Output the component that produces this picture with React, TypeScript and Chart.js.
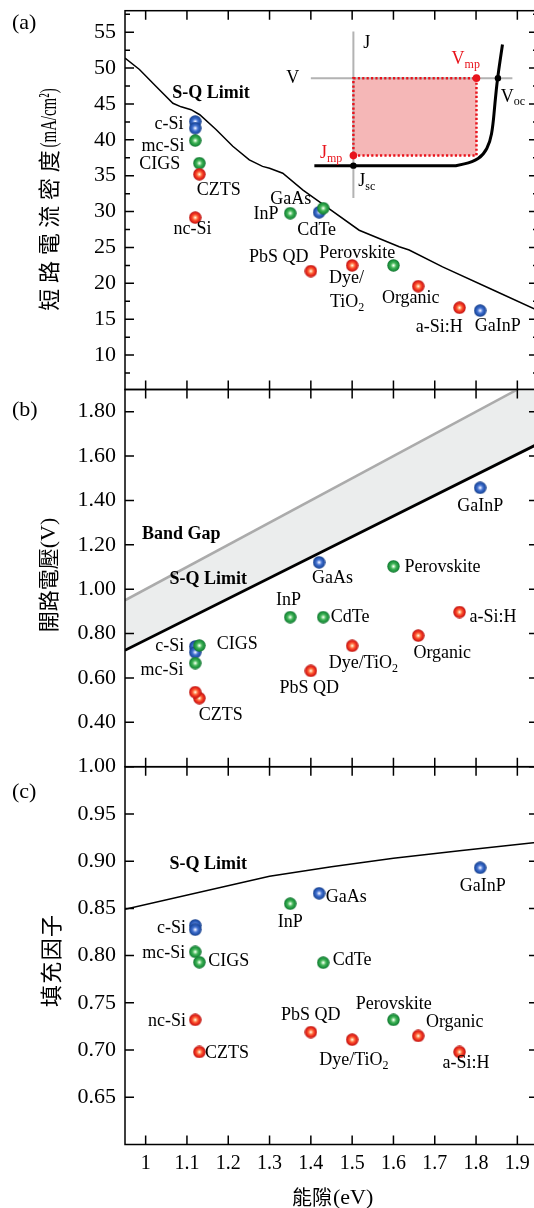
import React, { useEffect, useRef } from 'react';
import { Chart, registerables } from 'chart.js';
Chart.register(...registerables);

// ---------------- data ----------------
const materials = ['c-Si', 'c-Si', 'mc-Si', 'CIGS', 'CZTS', 'nc-Si', 'InP', 'GaAs', 'CdTe', 'PbS QD', 'Dye/TiO_2', 'Perovskite', 'Organic', 'a-Si:H', 'GaInP'];
const bandGap = [1.12, 1.12, 1.12, 1.13, 1.13, 1.12, 1.35, 1.42, 1.43, 1.40, 1.50, 1.60, 1.66, 1.76, 1.81];
const colorGroup = ['blue', 'blue', 'green', 'green', 'red', 'red', 'green', 'blue', 'green', 'red', 'red', 'green', 'red', 'red', 'blue'];
const jsc = [42.55, 41.63, 39.9, 36.75, 35.2, 29.16, 29.77, 29.9, 30.47, 21.7, 22.5, 22.5, 19.6, 16.6, 16.2];
const voc = [0.742, 0.716, 0.667, 0.746, 0.509, 0.536, 0.874, 1.121, 0.874, 0.632, 0.745, 1.103, 0.791, 0.897, 1.457];
const ff = [0.832, 0.8275, 0.804, 0.793, 0.698, 0.732, 0.855, 0.866, 0.7925, 0.719, 0.711, 0.732, 0.715, 0.698, 0.893];

const sqJscE = [0.95, 0.985, 1.026, 1.066, 1.086, 1.11, 1.131, 1.171, 1.211, 1.251, 1.283, 1.30, 1.332, 1.381, 1.437, 1.517, 1.614, 1.638, 1.719, 1.84, 1.95];
const sqJscV = [51.4, 49.8, 47.4, 45.1, 44.6, 44.2, 43.5, 41.4, 39.1, 37.2, 36.3, 36.05, 35.35, 33.0, 30.7, 27.4, 25.1, 24.65, 22.3, 19.1, 16.2];
const bandGapLineE = [0.95, 1.95];
const bandGapLineV = [0.95, 1.95];
const sqVocE = [0.95, 1.45, 1.95];
const sqVocV = [0.725, 1.19, 1.655];
const sqFfE = [0.95, 1.3, 1.45, 1.6, 1.76, 1.95];
const sqFfV = [0.849, 0.884, 0.894, 0.903, 0.911, 0.920];

const xTickValues = [1, 1.1, 1.2, 1.3, 1.4, 1.5, 1.6, 1.7, 1.8, 1.9];
const xTickLabels = ['1', '1.1', '1.2', '1.3', '1.4', '1.5', '1.6', '1.7', '1.8', '1.9'];
const jscTickValues = [10, 15, 20, 25, 30, 35, 40, 45, 50, 55];
const jscTickLabels = ['10', '15', '20', '25', '30', '35', '40', '45', '50', '55'];
const jscMinorTicks = [7.5, 12.5, 17.5, 22.5, 27.5, 32.5, 37.5, 42.5, 47.5, 52.5, 57.5];
const vocTickValues = [0.4, 0.6, 0.8, 1.0, 1.2, 1.4, 1.6, 1.8];
const vocTickLabels = ['0.40', '0.60', '0.80', '1.00', '1.20', '1.40', '1.60', '1.80'];
const ffTickValues = [0.65, 0.7, 0.75, 0.8, 0.85, 0.9, 0.95, 1.0];
const ffTickLabels = ['0.65', '0.70', '0.75', '0.80', '0.85', '0.90', '0.95', '1.00'];

// inset schematic (J-V curve), in panel (a) data units
const insetCurveE = [1.4085, 1.751, 1.792, 1.818, 1.834, 1.841, 1.846, 1.852, 1.864];
const insetCurveV = [36.4, 36.4, 36.9, 37.9, 39.7, 42.0, 45.3, 48.6, 53.3];

// ---------------- style ----------------
const W = 545;
const SERIF = '"Liberation Serif", "Times New Roman", serif';
const CJK = '"Noto Sans CJK TC", "Noto Sans CJK SC", sans-serif';
const RED = '#e8141c';

function makeBall(stops: string[]) {
  const c = document.createElement('canvas');
  c.width = 13; c.height = 13;
  const g = c.getContext('2d')!;
  const grad = g.createRadialGradient(6.5, 6.5, 0, 6.5, 6.5, 6.3);
  const pos = [0, 0.16, 0.42, 0.75, 1];
  stops.forEach((s, i) => grad.addColorStop(pos[i], s));
  g.fillStyle = grad;
  g.beginPath(); g.arc(6.5, 6.5, 6.2, 0, Math.PI * 2); g.fill();
  return c;
}

function drawRich(ctx: CanvasRenderingContext2D, text: string, x: number, y: number, size: number, align: string, bold = false, color = '#000') {
  const parts = text.split('_');
  const main = parts[0];
  const sub = parts[1];
  const fMain = `${bold ? 'bold ' : ''}${size}px ${SERIF}`;
  const fSub = `${bold ? 'bold ' : ''}${Math.round(size * 0.68)}px ${SERIF}`;
  ctx.font = fMain;
  const w1 = ctx.measureText(main).width;
  let w2 = 0;
  if (sub) { ctx.font = fSub; w2 = ctx.measureText(sub).width; }
  const total = w1 + w2;
  const x0 = align === 'left' ? x : align === 'right' ? x - total : x - total / 2;
  ctx.fillStyle = color;
  ctx.textBaseline = 'middle';
  ctx.textAlign = 'left';
  ctx.font = fMain;
  ctx.fillText(main, x0, y);
  if (sub) { ctx.font = fSub; ctx.fillText(sub, x0 + w1, y + size * 0.3); }
}

function drawVTitle(ctx: CanvasRenderingContext2D, cx: number, cy: number, cjk: string, cjkSize: number, pitch: number, latin: string, latinSize: number, latinScale: number) {
  ctx.save();
  ctx.translate(cx, cy);
  ctx.rotate(-Math.PI / 2);
  ctx.fillStyle = '#000';
  ctx.textBaseline = 'middle';
  ctx.font = `${latinSize}px ${SERIF}`;
  const lw = latin ? ctx.measureText(latin).width * latinScale : 0;
  const chars = Array.from(cjk);
  const total = chars.length * pitch + lw;
  let xx = -total / 2;
  ctx.font = `${cjkSize}px ${CJK}`;
  ctx.textAlign = 'center';
  for (const ch of chars) { ctx.fillText(ch, xx + pitch / 2, 0); xx += pitch; }
  if (latin) {
    ctx.save();
    ctx.translate(xx, 0);
    ctx.scale(latinScale, 1);
    ctx.font = `${latinSize}px ${SERIF}`;
    ctx.textAlign = 'left';
    ctx.fillText(latin, 0, 1);
    ctx.restore();
  }
  ctx.restore();
}

type Lbl = { i: number; t?: string; dx: number; dy: number; a: string };
type Txt = { t: string; e: number; v: number; a: string; bold?: boolean; color?: string; size?: number };

const labelsA: Lbl[] = [
  { i: 0, dx: -11.7, dy: 2.3, a: 'right' },
  { i: 2, dx: -10.7, dy: 6, a: 'right' },
  { i: 3, dx: -19, dy: 1, a: 'right' },
  { i: 4, dx: -2.7, dy: 15.7, a: 'left' },
  { i: 5, dx: -2.7, dy: 12, a: 'center' },
  { i: 6, dx: -11.7, dy: 1, a: 'right' },
  { i: 7, dx: -28.3, dy: -13.3, a: 'center' },
  { i: 8, dx: -6.5, dy: 21.7, a: 'center' },
  { i: 9, dx: -32, dy: -14.3, a: 'center' },
  { i: 11, dx: -36.3, dy: -11.7, a: 'center' },
  { i: 10, t: 'Dye/', dx: -5.6, dy: 13.3, a: 'center' },
  { i: 10, t: 'TiO_2', dx: -5, dy: 36.7, a: 'center' },
  { i: 12, dx: -7.5, dy: 12, a: 'center' },
  { i: 13, dx: -20.2, dy: 19.8, a: 'center' },
  { i: 14, dx: 17.6, dy: 16, a: 'center' },
];
const labelsB: Lbl[] = [
  { i: 0, dx: -11, dy: 0, a: 'right' },
  { i: 3, dx: 17.3, dy: -1.4, a: 'left' },
  { i: 2, dx: -11.7, dy: 6.7, a: 'right' },
  { i: 4, dx: -0.7, dy: 16.7, a: 'left' },
  { i: 14, dx: 0, dy: 18.4, a: 'center' },
  { i: 7, dx: 13.4, dy: 15.6, a: 'center' },
  { i: 11, dx: 11, dy: 1, a: 'left' },
  { i: 6, dx: -1.7, dy: -17.3, a: 'center' },
  { i: 8, dx: 7.4, dy: 0.4, a: 'left' },
  { i: 13, dx: 10, dy: 5.4, a: 'left' },
  { i: 12, dx: 24, dy: 17.6, a: 'center' },
  { i: 10, dx: -23.4, dy: 17.3, a: 'left' },
  { i: 9, dx: -1.7, dy: 17.3, a: 'center' },
];
const labelsC: Lbl[] = [
  { i: 0, dx: -9.3, dy: 3.3, a: 'right' },
  { i: 2, dx: -10, dy: 1.7, a: 'right' },
  { i: 3, dx: 9, dy: -1, a: 'left' },
  { i: 5, dx: -9.3, dy: 1.3, a: 'right' },
  { i: 4, dx: 5.7, dy: 1.7, a: 'left' },
  { i: 14, dx: 2.6, dy: 19, a: 'center' },
  { i: 7, dx: 6.7, dy: 4.4, a: 'left' },
  { i: 6, dx: 0, dy: 18.3, a: 'center' },
  { i: 8, dx: 9.4, dy: -2.3, a: 'left' },
  { i: 11, dx: 0.3, dy: -15.7, a: 'center' },
  { i: 9, dx: 0, dy: -16.6, a: 'center' },
  { i: 12, dx: 7.7, dy: -13.3, a: 'left' },
  { i: 10, dx: 1.7, dy: 20.7, a: 'center' },
  { i: 13, dx: 6.4, dy: 11.7, a: 'center' },
];

const textsA: Txt[] = [
  { t: 'S-Q Limit', e: 1.0645, v: 46.5, a: 'left', bold: true },
  { t: 'J', e: 1.527, v: 53.5, a: 'left' },
  { t: 'V', e: 1.356, v: 48.6, a: 'center' },
  { t: 'V_mp', e: 1.775, v: 51.2, a: 'center', color: RED },
  { t: 'J_mp', e: 1.449, v: 38.1, a: 'center', color: RED },
  { t: 'J_sc', e: 1.515, v: 34.2, a: 'left' },
  { t: 'V_oc', e: 1.860, v: 46.0, a: 'left' },
];
const textsB: Txt[] = [
  { t: 'Band Gap', e: 0.991, v: 1.246, a: 'left', bold: true },
  { t: 'S-Q Limit', e: 1.058, v: 1.043, a: 'left', bold: true },
];
const textsC: Txt[] = [
  { t: 'S-Q Limit', e: 1.058, v: 0.8965, a: 'left', bold: true },
];

function lineDs(E: number[], V: number[], color: string, width: number, order: number, extra: any = {}) {
  return {
    type: 'line', data: E.map((e, i) => ({ x: e, y: V[i] })), borderColor: color, borderWidth: width,
    pointRadius: 0, showLine: true, fill: false, tension: 0, order, clip: 0, ...extra,
  };
}

function pointDs(yVals: number[], balls: any) {
  const groups: [string, number][] = [['red', 0], ['green', 1], ['blue', 2]];
  return groups.map(([col, ord]) => ({
    type: 'line', label: col, showLine: false, order: ord,
    data: materials.map((m, i) => (colorGroup[i] === col ? { x: bandGap[i], y: yVals[i] } : null)).filter(Boolean),
    pointStyle: balls[col], pointRadius: 6, clip: false,
  }));
}

function panelPlugin(cfg: any) {
  return {
    id: 'panel' + cfg.name,
    beforeDatasetsDraw(chart: any) {
      if (!cfg.inset) return;
      const { ctx, scales: { x, y } } = chart;
      const P = (e: number, v: number) => [x.getPixelForValue(e), y.getPixelForValue(v)];
      ctx.save();
      const [rx0, ry0] = P(1.503, 48.6);
      const [rx1, ry1] = P(1.801, 37.8);
      ctx.fillStyle = '#f5b7b7';
      ctx.fillRect(rx0, ry0, rx1 - rx0, ry1 - ry0);
      ctx.strokeStyle = '#b3b3b3';
      ctx.lineWidth = 2;
      ctx.beginPath();
      let p = P(1.503, 55.1); ctx.moveTo(p[0], p[1]);
      p = P(1.503, 31.9); ctx.lineTo(p[0], p[1]);
      p = P(1.40, 48.6); ctx.moveTo(p[0], p[1]);
      p = P(1.888, 48.6); ctx.lineTo(p[0], p[1]);
      ctx.stroke();
      ctx.strokeStyle = RED;
      ctx.lineWidth = 2.5;
      ctx.setLineDash([2.2, 2.2]);
      ctx.strokeRect(rx0, ry0, rx1 - rx0, ry1 - ry0);
      ctx.setLineDash([]);
      // J-V curve, smoothed through midpoints
      ctx.strokeStyle = '#000';
      ctx.lineWidth = 3;
      ctx.lineJoin = 'round';
      const pts = insetCurveE.map((e, i) => P(e, insetCurveV[i]));
      ctx.beginPath();
      ctx.moveTo(pts[0][0], pts[0][1]);
      for (let i = 1; i < pts.length - 1; i++) {
        const mx = (pts[i][0] + pts[i + 1][0]) / 2;
        const my = (pts[i][1] + pts[i + 1][1]) / 2;
        if (i === 1) ctx.lineTo(pts[1][0] - 0.001, pts[1][1]);
        ctx.quadraticCurveTo(pts[i][0], pts[i][1], mx, my);
      }
      ctx.lineTo(pts[pts.length - 1][0], pts[pts.length - 1][1]);
      ctx.stroke();
      const dot = (e: number, v: number, c: string, r: number) => { const q = P(e, v); ctx.fillStyle = c; ctx.beginPath(); ctx.arc(q[0], q[1], r, 0, Math.PI * 2); ctx.fill(); };
      dot(1.801, 48.6, RED, 3.8);
      dot(1.503, 37.8, RED, 3.8);
      dot(1.503, 36.4, '#000', 3.2);
      dot(1.853, 48.6, '#000', 3.2);
      ctx.restore();
    },
    afterDraw(chart: any) {
      const { ctx, chartArea: ca, scales: { x, y } } = chart;
      const off = cfg.top;
      ctx.save();
      ctx.strokeStyle = '#000';
      ctx.lineWidth = 1.5;
      ctx.strokeRect(ca.left, ca.top, ca.right - ca.left, ca.bottom - ca.top);
      ctx.beginPath();
      xTickValues.forEach((v) => {
        const px = x.getPixelForValue(v);
        ctx.moveTo(px, ca.top); ctx.lineTo(px, ca.top + 9);
        ctx.moveTo(px, ca.bottom); ctx.lineTo(px, ca.bottom - 9);
      });
      cfg.yTicks.forEach((v: number) => {
        const py = y.getPixelForValue(v);
        ctx.moveTo(ca.left, py); ctx.lineTo(ca.left + 9, py);
        ctx.moveTo(ca.right, py); ctx.lineTo(ca.right - 9, py);
      });
      (cfg.yMinor || []).forEach((v: number) => {
        const py = y.getPixelForValue(v);
        ctx.moveTo(ca.left, py); ctx.lineTo(ca.left + 5, py);
        ctx.moveTo(ca.right, py); ctx.lineTo(ca.right - 5, py);
      });
      ctx.stroke();
      cfg.yTicks.forEach((v: number, i: number) => {
        drawRich(ctx, cfg.yLabels[i], 116, y.getPixelForValue(v), 22, 'right');
      });
      if (cfg.xLabels) {
        xTickValues.forEach((v, i) => drawRich(ctx, xTickLabels[i], x.getPixelForValue(v), 1164 - off, 20, 'center'));
        ctx.fillStyle = '#000';
        ctx.textBaseline = 'middle';
        ctx.textAlign = 'left';
        ctx.font = `20px ${CJK}`;
        ctx.fillText('能隙', 292, 1197 - off);
        const w = ctx.measureText('能隙').width;
        ctx.font = `22px ${SERIF}`;
        ctx.fillText('(eV)', 292 + w + 1, 1198 - off);
      }
      cfg.labels.forEach((l: Lbl) => {
        const px = x.getPixelForValue(bandGap[l.i]);
        const py = y.getPixelForValue(cfg.values[l.i]);
        drawRich(ctx, l.t || materials[l.i], px + l.dx, py + l.dy, 18, l.a);
      });
      cfg.texts.forEach((t: Txt) => {
        drawRich(ctx, t.t, x.getPixelForValue(t.e), y.getPixelForValue(t.v), t.size || 18, t.a, !!t.bold, t.color || '#000');
      });
      drawRich(ctx, cfg.letter, 12, cfg.letterY - off, 22, 'left');
      const tt = cfg.title;
      drawVTitle(ctx, tt.cx, tt.cy - off, tt.cjk, tt.cjkSize, tt.pitch, tt.latin, tt.latinSize, tt.latinScale);
      ctx.restore();
    },
  };
}

function buildChart(canvas: HTMLCanvasElement, cfg: any, datasets: any[]) {
  return new Chart(canvas, {
    type: 'line',
    data: { datasets },
    options: {
      animation: false,
      responsive: false,
      maintainAspectRatio: false,
      events: [],
      layout: { padding: { left: 125, right: W - 538.7, top: cfg.padTop, bottom: cfg.padBottom } },
      scales: {
        x: { type: 'linear', min: 0.95, max: 1.95, display: false },
        y: { type: 'linear', min: cfg.min, max: cfg.max, display: false },
      },
      plugins: { legend: { display: false }, tooltip: { enabled: false }, title: { display: false } },
    } as any,
    plugins: [panelPlugin(cfg)],
  } as any);
}

export default function App() {
  const refA = useRef<HTMLCanvasElement>(null);
  const refB = useRef<HTMLCanvasElement>(null);
  const refC = useRef<HTMLCanvasElement>(null);

  useEffect(() => {
    const balls = {
      red: makeBall(['#ffffff', '#ffc89a', '#ff5a30', '#e2221a', '#b51610']),
      green: makeBall(['#ffffff', '#bdeec0', '#45b45a', '#1d963e', '#137030']),
      blue: makeBall(['#ffffff', '#bccdf8', '#4472d0', '#2354ae', '#163c86']),
    };
    const cA = buildChart(refA.current!, {
      name: 'A', top: 0, padTop: 10.7, padBottom: 10.5, min: 5.2, max: 58,
      yTicks: jscTickValues, yLabels: jscTickLabels, yMinor: jscMinorTicks,
      labels: labelsA, values: jsc, texts: textsA, inset: true,
      letter: '(a)', letterY: 23,
      title: { cx: 49, cy: 201, cjk: '短路電流密度', cjkSize: 22, pitch: 27.7, latin: '(mA/cm²)', latinSize: 24, latinScale: 0.62 },
    }, [
      ...pointDs(jsc, balls),
      lineDs(sqJscE, sqJscV, '#000', 1.5, 10),
    ]);
    const cB = buildChart(refB.current!, {
      name: 'B', top: 380, padTop: 9.5, padBottom: 13.3, min: 0.2, max: 1.9,
      yTicks: vocTickValues, yLabels: vocTickLabels,
      labels: labelsB, values: voc, texts: textsB,
      letter: '(b)', letterY: 410.7,
      title: { cx: 48, cy: 575, cjk: '開路電壓', cjkSize: 21, pitch: 21, latin: '(V)', latinSize: 22, latinScale: 1 },
    }, [
      ...pointDs(voc, balls),
      lineDs(bandGapLineE, bandGapLineV, '#ababab', 2.5, 11, { fill: { target: '+1' }, backgroundColor: '#ebeded' }),
      lineDs(sqVocE, sqVocV, '#000', 2.8, 10),
    ]);
    const cC = buildChart(refC.current!, {
      name: 'C', top: 757, padTop: 9.7, padBottom: 451 - (1144.5 - 757), min: 0.6, max: 1.0,
      yTicks: ffTickValues, yLabels: ffTickLabels,
      labels: labelsC, values: ff, texts: textsC, xLabels: true,
      letter: '(c)', letterY: 792.3,
      title: { cx: 51, cy: 961, cjk: '填充因子', cjkSize: 22, pitch: 23.3, latin: '', latinSize: 22, latinScale: 1 },
    }, [
      ...pointDs(ff, balls),
      lineDs(sqFfE, sqFfV, '#000', 1.5, 10),
    ]);
    return () => { cA.destroy(); cB.destroy(); cC.destroy(); };
  }, []);

  return (
    <div style={{ position: 'fixed', left: 0, top: 0, width: 534, height: 1208, overflow: 'hidden', background: '#fff' }}>
      <canvas ref={refA} width={W} height={400} style={{ position: 'absolute', left: 0, top: 0 }} />
      <canvas ref={refB} width={W} height={400} style={{ position: 'absolute', left: 0, top: 380 }} />
      <canvas ref={refC} width={W} height={451} style={{ position: 'absolute', left: 0, top: 757 }} />
    </div>
  );
}
